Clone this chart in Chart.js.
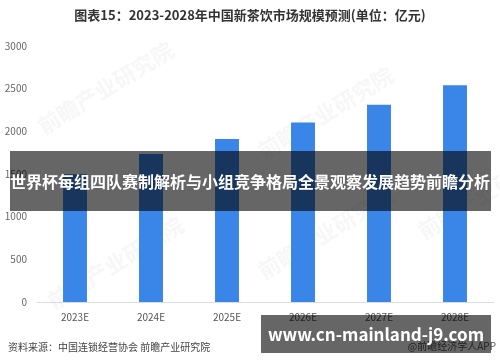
<!DOCTYPE html>
<html lang="zh-CN">
<head>
<meta charset="UTF-8" />
<title>中国新茶饮市场规模预测</title>
<script src="https://cdn.jsdelivr.net/npm/chart.js"></script>
<style>
  html, body { margin: 0; padding: 0; background: #fff; }
  #wrap { position: relative; width: 500px; height: 362px; }
</style>
</head>
<body>
<div id="wrap"><canvas id="grafico" width="500" height="362"></canvas></div>
<script>
// dados do gráfico
const anos = ['2023E', '2024E', '2025E', '2026E', '2027E', '2028E'];
const valores = [1498, 1733, 1909, 2104, 2311, 2541];
const ticksY = [0, 500, 1000, 1500, 2000, 2500, 3000];

const titulo = '图表15：2023-2028年中国新茶饮市场规模预测(单位：亿元)';
const fonte = '资料来源：中国连锁经营协会 前瞻产业研究院';
const marca = '@前瞻经济学人APP';
const faixa = '世界杯每组四队赛制解析与小组竞争格局全景观察发展趋势前瞻分析';
const site = 'www.cn-mainland-j9.com';

const familia = '"Noto Sans CJK SC", "Noto Sans", sans-serif';

// marcas d'água, título, fonte e faixas por cima
const extras = {
  id: 'extras',
  beforeDatasetsDraw(chart) {
    const ctx = chart.ctx;
    ctx.save();
    ctx.fillStyle = 'rgba(200,200,200,0.15)';
    ctx.font = 'bold 22px ' + familia;
    [[110, 95], [330, 120], [120, 270], [330, 240], [490, 200]].forEach(function (p) {
      ctx.save();
      ctx.translate(p[0], p[1]);
      ctx.rotate(-0.55);
      ctx.textAlign = 'center';
      ctx.fillText('前瞻产业研究院', 0, 0);
      ctx.restore();
    });
    ctx.restore();
  },
  afterDraw(chart) {
    const ctx = chart.ctx;
    ctx.save();
    // título
    ctx.fillStyle = '#333';
    ctx.font = 'bold 13px ' + familia;
    ctx.textAlign = 'center';
    ctx.textBaseline = 'middle';
    ctx.fillText(titulo, 250, 15);
    // fonte
    ctx.fillStyle = '#444';
    ctx.font = '10px ' + familia;
    ctx.textAlign = 'left';
    ctx.fillText(fonte, 8, 347);
    ctx.textAlign = 'right';
    ctx.fillStyle = '#555';
    ctx.fillText(marca, 496, 346);
    // faixa do meio
    ctx.fillStyle = 'rgba(0,0,0,0.6)';
    ctx.fillRect(10, 151, 481, 60);
    ctx.fillStyle = '#fff';
    ctx.font = 'bold 16px ' + familia;
    ctx.textAlign = 'center';
    ctx.fillText(faixa, 250, 182);
    // faixa de baixo
    ctx.fillStyle = 'rgba(0,0,0,0.6)';
    ctx.fillRect(261, 315, 230, 38);
    ctx.fillStyle = '#fff';
    ctx.font = 'bold 17px ' + familia;
    ctx.fillText(site, 376, 335);
    ctx.restore();
  }
};

const config = {
  type: 'bar',
  data: {
    labels: anos,
    datasets: [{
      label: '市场规模',
      data: valores,
      backgroundColor: '#3a86e8',
      borderWidth: 0,
      barPercentage: 0.315,
      categoryPercentage: 1
    }]
  },
  options: {
    responsive: false,
    animation: false,
    layout: { padding: { left: 0, right: 7, top: 46, bottom: 35 } },
    plugins: {
      legend: { display: false },
      title: { display: false },
      tooltip: { enabled: false }
    },
    scales: {
      x: {
        grid: { display: false, drawTicks: false },
        border: { display: true, color: '#dcdcdc', width: 1 },
        ticks: { color: '#555', font: { size: 10, family: familia }, padding: 9 },
        afterFit(scale) { scale.height = 25; }
      },
      y: {
        min: 0,
        max: 3000,
        afterBuildTicks(scale) { scale.ticks = ticksY.map(v => ({ value: v })); },
        grid: { display: false, drawTicks: false },
        border: { display: false },
        ticks: {
          color: '#666',
          font: { size: 10, family: familia },
          padding: 10,
          callback: function (v) { return String(v); }
        },
        afterFit(scale) { scale.width = 37; }
      }
    }
  },
  plugins: [extras]
};

new Chart(document.getElementById('grafico'), config);
</script>
</body>
</html>
